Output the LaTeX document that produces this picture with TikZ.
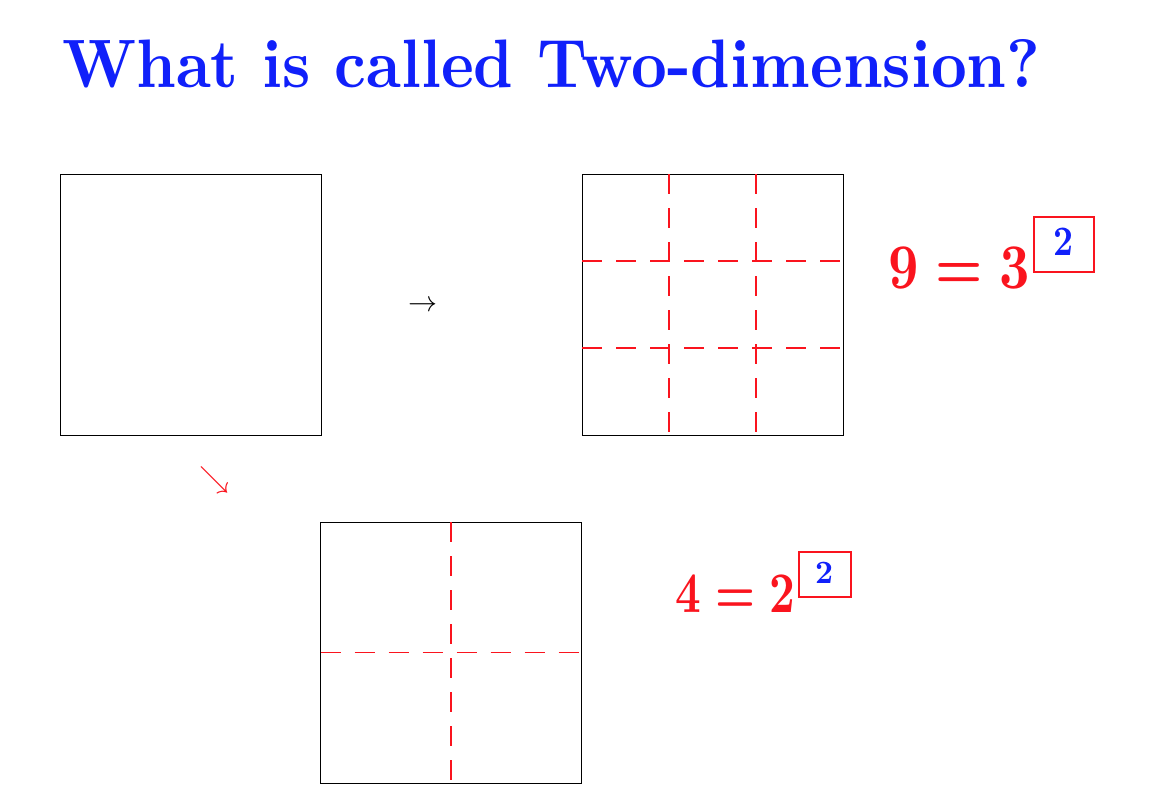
\documentclass[tikz,border=0pt]{standalone}
\usetikzlibrary{calc}
\definecolor{titleblue}{RGB}{16,32,250}
\definecolor{eqred}{RGB}{250,20,30}
\tikzset{
  sqbox/.style={draw=black,line width=1pt,minimum width=261pt,minimum height=261pt,inner sep=0pt,outer sep=0pt},
  cutline/.style={draw=eqred,line width=1.2pt,dash pattern=on 20pt off 14pt},
  expbox/.style={draw=eqred,line width=1.1pt,inner sep=0pt,outer sep=0pt},
  eqtext/.style={text=eqred,inner sep=0pt,anchor=base west},
  exptext/.style={text=titleblue,inner sep=0pt},
  arrowsym/.style={inner sep=0pt},
}
\begin{document}
\begin{tikzpicture}[x=1pt,y=-1pt]
\useasboundingbox (0,0) rectangle (1174,800);
% title
\node[text=titleblue,inner sep=0pt,anchor=base west] (title) at (62,88)
  {\resizebox{978pt}{48pt}{\bfseries What is called Two-dimension?}};
% squares
\node[sqbox] (sqA) at (190.5,304.5) {};
\node[sqbox] (sqB) at (712.5,304.5) {};
\node[sqbox] (sqC) at (451,652.5) {};
% 3x3 cuts
\draw[cutline] ($(sqB.north west)!1/3!(sqB.north east)$) -- ($(sqB.south west)!1/3!(sqB.south east)$);
\draw[cutline] ($(sqB.north west)!2/3!(sqB.north east)$) -- ($(sqB.south west)!2/3!(sqB.south east)$);
\draw[cutline] ($(sqB.north west)!1/3!(sqB.south west)$) -- ($(sqB.north east)!1/3!(sqB.south east)$);
\draw[cutline] ($(sqB.north west)!2/3!(sqB.south west)$) -- ($(sqB.north east)!2/3!(sqB.south east)$);
% 2x2 cuts
\draw[cutline] (sqC.north) -- (sqC.south);
\draw[cutline,yshift=-0.5pt] (sqC.west) -- (sqC.east);
% arrows as symbols
\node[arrowsym] (arrR) at (423,306) {\resizebox{29pt}{!}{$\rightarrow$}};
\node[arrowsym,text=eqred] (arrD) at (214.5,479.5) {\resizebox{30pt}{!}{$\searrow$}};
% equation 9 = 3^2
\node[eqtext] (eqA) at (888,288) {\resizebox{142pt}{41pt}{\boldmath$9=3$}};
\node[expbox,minimum width=60pt,minimum height=55pt] (boxA) at (1064,244.5) {};
\node[exptext] (expA) at (1063,241.5) {\resizebox{20pt}{27pt}{\boldmath$2$}};
% equation 4 = 2^2
\node[eqtext] (eqB) at (675,612) {\resizebox{120pt}{37pt}{\boldmath$4=2$}};
\node[expbox,minimum width=52pt,minimum height=45pt] (boxB) at (825,574.5) {};
\node[exptext] (expB) at (824,572.5) {\resizebox{18pt}{21pt}{\boldmath$2$}};
\end{tikzpicture}
\end{document}
